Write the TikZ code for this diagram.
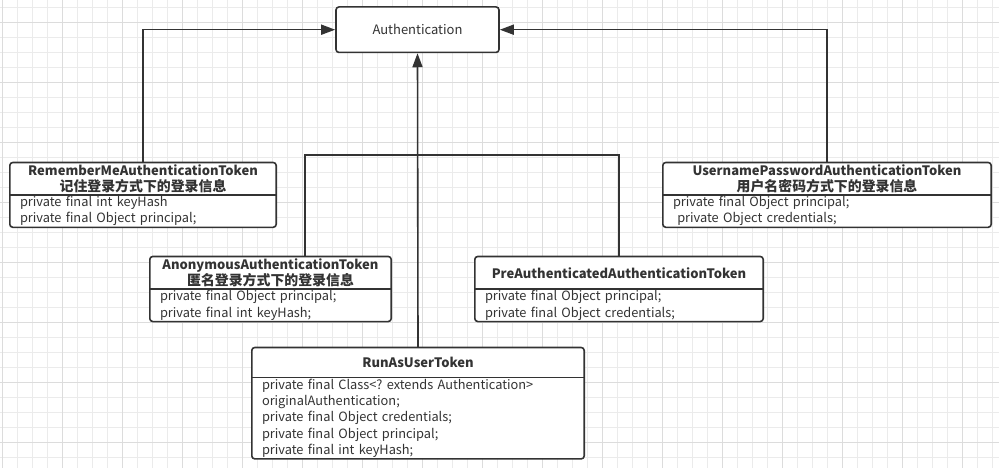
\documentclass[tikz,border=0pt]{standalone}
\usepackage{fontspec}
\setmainfont{Noto Sans CJK SC}
\frenchspacing
\usetikzlibrary{arrows.meta,positioning,backgrounds}
\definecolor{ink}{HTML}{333333}
\definecolor{gridminor}{HTML}{EBEBEB}
\definecolor{gridmajor}{HTML}{DCDCDC}
\newcommand{\zh}[1]{{\fontsize{13.9}{16}\selectfont #1}}
\tikzset{
  link/.style={line width=1.6pt, draw=ink, -{Triangle[length=14pt,width=10pt]}},
  bus/.style={line width=1.6pt, draw=ink},
  frame/.style={line width=1.6pt, draw=ink, fill=white, rounded corners=3pt},
  head/.style={inner sep=0pt, align=center, text=ink,
    font=\fontsize{13}{16}\selectfont\bfseries},
  attrs/.style={inner xsep=10pt, inner ysep=0pt, align=left, text=ink,
    font=\fontsize{12.8}{16.3}\selectfont},
}
\begin{document}
\begin{tikzpicture}[x=1pt,y=-1pt]
\useasboundingbox (0,0) rectangle (999,468);
% grid
\begin{scope}[on background layer]
  \foreach \x in {2,17,...,992} \draw[gridminor, line width=0.8pt] (\x,0) -- (\x,468);
  \foreach \y in {7,22,...,457} \draw[gridminor, line width=0.8pt] (0,\y) -- (999,\y);
  \foreach \x in {2,62,...,962} \draw[gridmajor, line width=0.8pt] (\x,0) -- (\x,468);
  \foreach \y in {22,82,...,442} \draw[gridmajor, line width=0.8pt] (0,\y) -- (999,\y);
\end{scope}

\node[frame, minimum width=163pt, minimum height=45.5pt, text=ink,
  font=\fontsize{13}{14}\selectfont] (auth) at (417.5,29.7) {Authentication};

% classes
\node[head, minimum width=266pt, minimum height=32pt] (remember-t) at (143,178.7)
  {RememberMeAuthenticationToken\\\zh{记住登录方式下的登录信息}};
\node[attrs, text width=246pt, minimum height=32pt, below=0pt of remember-t] (remember-b)
  {private final int keyHash\\private final Object principal;};

\node[head, minimum width=328pt, minimum height=32pt] (user-t) at (827,178.7)
  {UsernamePasswordAuthenticationToken\\\zh{用户名密码方式下的登录信息}};
\node[attrs, text width=308pt, minimum height=32pt, below=0pt of user-t] (user-b)
  {private final Object principal;\\\ private Object credentials;};

\node[head, minimum width=241pt, minimum height=32.3pt] (anon-t) at (270.5,272.8)
  {AnonymousAuthenticationToken\\\zh{匿名登录方式下的登录信息}};
\node[attrs, text width=221pt, minimum height=32pt, below=0pt of anon-t] (anon-b)
  {private final Object principal;\\private final int keyHash;};

\node[head, minimum width=288pt, minimum height=32.3pt] (pre-t) at (619,272.8)
  {PreAuthenticatedAuthenticationToken};
\node[attrs, text width=268pt, minimum height=32pt, below=0pt of pre-t] (pre-b)
  {private final Object principal;\\private final Object credentials;};

\node[head, minimum width=332pt, minimum height=29.6pt] (runas-t) at (418,362.5)
  {RunAsUserToken};
\node[attrs, text width=312pt, minimum height=81pt, below=0pt of runas-t] (runas-b)
  {private final Class<? extends Authentication>\\originalAuthentication;\\private final Object credentials;\\private final Object principal;\\private final int keyHash;};

\begin{scope}[on background layer]
  \foreach \n in {remember,user,anon,pre,runas} {
    \draw[frame] (\n-t.north west) rectangle (\n-b.south east);
    \draw[bus] (\n-t.south west) -- (\n-t.south east);
  }
\end{scope}

% inheritance
\coordinate (join) at (auth.south |- 0,155);
\draw[link] (remember-t.north) |- (auth.west);
\draw[link] (user-t.north) |- (auth.east);
\draw[bus] ([xshift=34.5pt]anon-t.north) |- (join);
\draw[bus] (pre-t.north) |- (join);
\draw[link] (runas-t.north) -- (auth.south);
\end{tikzpicture}
\end{document}
